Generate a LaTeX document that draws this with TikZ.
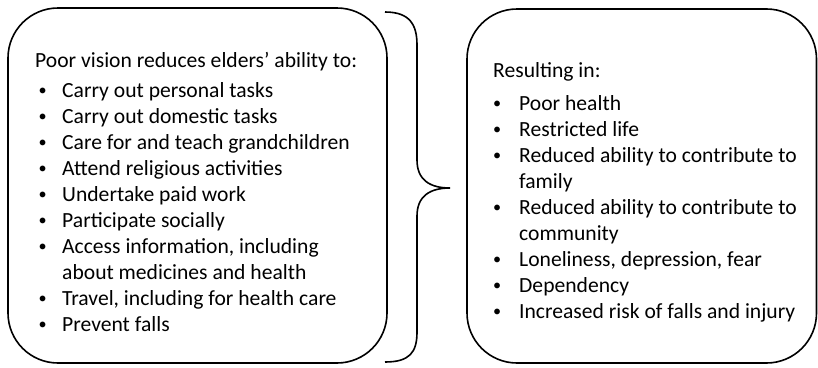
\documentclass[tikz,border=0pt]{standalone}
\usepackage{fontspec}
\setmainfont{Carlito}
\newcommand\smbul{\raisebox{0.05em}{\scalebox{0.75}{\textbullet}}}
\newcommand\litm[1]{\llap{\makebox[0pt]{\smbul}\hspace{19.5pt}}#1}
\newcommand\ritm[1]{\llap{\makebox[0pt]{\smbul}\hspace{22pt}}#1}
\tikzset{
  boxframe/.style={draw=black, line width=1.6pt, rounded corners=50pt},
  txt/.style={anchor=base west, inner sep=0pt, font=\fontsize{21.6}{26}\selectfont},
  bracepath/.style={draw=black, line width=1.6pt}
}
\begin{document}
\begin{tikzpicture}[x=1pt,y=-1pt]
\useasboundingbox (0,0) rectangle (818,367);
% boxes
\draw[boxframe] (8,8) rectangle (387,363);
\draw[boxframe] (467,9) rectangle (816.5,363);
\node[inner sep=0pt] (lbox) at (197.5,185.5) {};
\node[inner sep=0pt] (rbox) at (642,186) {};
% brace
\coordinate (btop) at (385,12);
\coordinate (bbot) at (385,362);
\coordinate (btip) at (450,188);
\draw[bracepath] (btop) .. controls (410,12) and (417,25) .. (417,45)
  -- (417,160) .. controls (417,180) and (430,188) .. (btip)
  .. controls (430,188) and (417,196) .. (417,216)
  -- (417,332) .. controls (417,352) and (410,362) .. (bbot);
% left text
\node[txt] (lhead) at (35,67) {Poor vision reduces elders’ ability to:};
\node[txt] (llist) at (62,97) {\begin{tabular}[t]{@{}l@{}}
\litm{Carry out personal tasks}\\
\litm{Carry out domestic tasks}\\
\litm{Care for and teach grandchildren}\\
\litm{Attend religious activities}\\
\litm{Undertake paid work}\\
\litm{Participate socially}\\
\litm{Access information, including}\\
about medicines and health\\
\litm{Travel, including for health care}\\
\litm{Prevent falls}
\end{tabular}};
% right text
\node[txt] (rhead) at (493,77) {Resulting in:};
\node[txt] (rlist) at (519,110) {\begin{tabular}[t]{@{}l@{}}
\ritm{Poor health}\\
\ritm{Restricted life}\\
\ritm{Reduced ability to contribute to}\\
family\\
\ritm{Reduced ability to contribute to}\\
community\\
\ritm{Loneliness, depression, fear}\\
\ritm{Dependency}\\
\ritm{Increased risk of falls and injury}
\end{tabular}};
\end{tikzpicture}
\end{document}
